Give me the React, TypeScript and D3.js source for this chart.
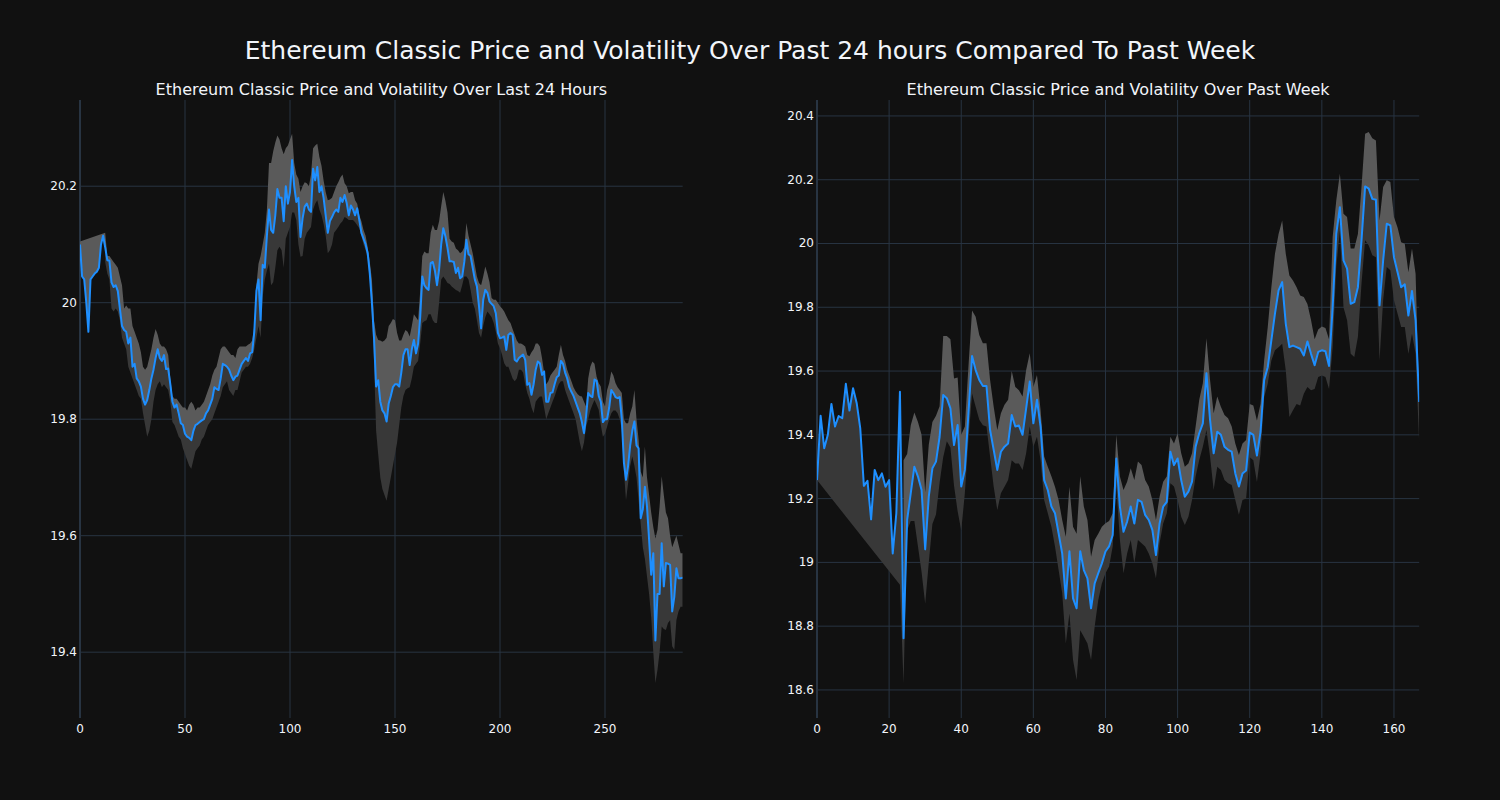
import React from "react";
import * as d3 from "d3";

// ---------- Past 24 hours (5-minute steps) ----------
const dayPrice: number[] = [
  20.10, 20.045, 20.04, 20.00, 19.95, 20.04, 20.045, 20.05, 20.053, 20.06,
  20.10, 20.115, 20.095, 20.073, 20.072, 20.035, 20.027, 20.03, 20.02, 19.99,
  19.96, 19.953, 19.95, 19.93, 19.94, 19.89, 19.895, 19.87, 19.865, 19.856,
  19.835, 19.825, 19.833, 19.85, 19.87, 19.885, 19.905, 19.92, 19.905, 19.90,
  19.91, 19.886, 19.887, 19.86, 19.83, 19.82, 19.825, 19.81, 19.793, 19.79,
  19.775, 19.77, 19.768, 19.764, 19.78, 19.79, 19.792, 19.795, 19.798, 19.80,
  19.81, 19.815, 19.825, 19.835, 19.855, 19.852, 19.85, 19.87, 19.895, 19.893,
  19.89, 19.885, 19.875, 19.867, 19.873, 19.875, 19.885, 19.895, 19.90, 19.905,
  19.90, 19.913, 19.915, 19.95, 20.02, 20.04, 19.97, 20.065, 20.06, 20.115,
  20.16, 20.125, 20.12, 20.15, 20.195, 20.18, 20.18, 20.14, 20.20, 20.17,
  20.19, 20.245, 20.20, 20.173, 20.18, 20.113, 20.145, 20.165, 20.17, 20.16,
  20.156, 20.23, 20.21, 20.233, 20.19, 20.20, 20.18, 20.15, 20.12, 20.14,
  20.147, 20.155, 20.16, 20.156, 20.18, 20.173, 20.185, 20.171, 20.15, 20.167,
  20.16, 20.15, 20.162, 20.142, 20.12, 20.11, 20.10, 20.085, 20.05, 20.0,
  19.94, 19.856, 19.867, 19.83, 19.815, 19.81, 19.796, 19.827, 19.84, 19.855,
  19.86, 19.86, 19.856, 19.88, 19.91, 19.92, 19.92, 19.893, 19.92, 19.936,
  19.913, 19.93, 19.975, 20.045, 20.03, 20.025, 20.022, 20.068, 20.07, 20.055,
  20.03, 20.057, 20.1, 20.128, 20.114, 20.094, 20.071, 20.071, 20.07, 20.051,
  20.06, 20.042, 20.045, 20.07, 20.108, 20.083, 20.08, 20.06, 20.04, 20.028,
  19.994, 19.956, 20.005, 20.022, 20.017, 20.002, 19.998, 19.994, 19.982, 19.948,
  19.939, 19.94, 19.942, 19.919, 19.945, 19.948, 19.945, 19.902, 19.899, 19.905,
  19.908, 19.911, 19.902, 19.859, 19.862, 19.842, 19.86, 19.885, 19.899, 19.896,
  19.876, 19.882, 19.83, 19.83, 19.845, 19.846, 19.86, 19.872, 19.875, 19.9,
  19.895, 19.88, 19.87, 19.855, 19.847, 19.84, 19.83, 19.82, 19.81, 19.795,
  19.776, 19.805, 19.845, 19.84, 19.838, 19.868, 19.866, 19.84, 19.83, 19.795,
  19.80, 19.80, 19.82, 19.85, 19.845, 19.838, 19.836, 19.838, 19.8, 19.726,
  19.696, 19.72, 19.755, 19.78, 19.796, 19.755, 19.75, 19.63, 19.645, 19.684,
  19.65, 19.593, 19.533, 19.57, 19.42, 19.50, 19.5, 19.587, 19.513, 19.553,
  19.552, 19.55, 19.47, 19.495, 19.544, 19.527, 19.527, 19.528,
];

const dayUpper: (number | null)[] = [
  20.105, null, null, null, null, null, null, null, null, null,
  null, null, 20.12, 20.08, 20.08, 20.075, 20.07, 20.065, 20.06, 20.045,
  20.03, 19.99, 19.995, 19.99, 19.99, 19.96, 19.95, 19.94, 19.93, 19.915,
  19.89, 19.885, 19.89, 19.905, 19.92, 19.94, 19.955, 19.945, 19.93, 19.925,
  19.925, 19.92, 19.91, 19.87, 19.84, 19.835, 19.835, 19.83, 19.825, 19.82,
  19.82, 19.815, 19.825, 19.83, 19.825, 19.815, 19.82, 19.82, 19.825, 19.83,
  19.84, 19.85, 19.86, 19.875, 19.885, 19.89, 19.905, 19.92, 19.925, 19.925,
  19.92, 19.915, 19.91, 19.91, 19.905, 19.92, 19.925, 19.925, 19.925, 19.925,
  19.928, 19.93, 19.935, 19.96, 20.03, 20.067, 20.08, 20.10, 20.12, 20.16,
  20.24, 20.24, 20.26, 20.275, 20.287, 20.28, 20.265, 20.255, 20.265, 20.27,
  20.28, 20.29, 20.24, 20.22, 20.213, 20.19, 20.2, 20.207, 20.205, 20.2,
  20.22, 20.265, 20.27, 20.273, 20.25, 20.235, 20.21, 20.19, 20.176, 20.177,
  20.18, 20.19, 20.2, 20.207, 20.215, 20.22, 20.205, 20.2, 20.188, 20.19,
  20.19, 20.176, 20.17, 20.15, 20.14, 20.125, 20.115, 20.095, 20.07, 20.04,
  19.97, 19.945, 19.936, 19.935, 19.933, 19.935, 19.94, 19.96, 19.965, 19.972,
  19.97, 19.948, 19.935, 19.935, 19.945, 19.953, 19.95, 19.942, 19.96, 19.98,
  19.975, 19.97, 20.02, 20.08, 20.088, 20.085, 20.085, 20.12, 20.134, 20.125,
  20.125, 20.14, 20.166, 20.19, 20.175, 20.155, 20.11, 20.105, 20.103, 20.093,
  20.09, 20.085, 20.088, 20.095, 20.137, 20.115, 20.1, 20.085, 20.065, 20.045,
  20.034, 20.03, 20.045, 20.062, 20.05, 20.035, 20.008, 20.005, 20.005, 20.0,
  19.994, 19.99, 19.985, 19.977, 19.97, 19.965, 19.955, 19.945, 19.935, 19.93,
  19.93, 19.928, 19.925, 19.91, 19.908, 19.915, 19.92, 19.93, 19.93, 19.925,
  19.905, 19.88, 19.86, 19.865, 19.875, 19.88, 19.885, 19.89, 19.91, 19.928,
  19.91, 19.9, 19.885, 19.875, 19.865, 19.855, 19.848, 19.843, 19.84, 19.839,
  19.83, 19.822, 19.87, 19.89, 19.899, 19.895, 19.873, 19.862, 19.856, 19.83,
  19.822, 19.85, 19.862, 19.882, 19.875, 19.862, 19.855, 19.85, 19.845, 19.8,
  19.793, 19.793, 19.81, 19.822, 19.85, 19.8, 19.765, 19.71, 19.70, 19.753,
  19.70, 19.67, 19.64, 19.615, 19.595, 19.61, 19.65, 19.702, 19.67, 19.64,
  19.63, 19.6, 19.58, 19.59, 19.6, 19.585, 19.57, 19.57,
];

const dayLower: (number | null)[] = [
  null, null, null, null, null, null, null, null, null, null,
  null, null, 20.07, 20.05, 20.04, 19.99, 19.985, 19.99, 19.985, 19.97,
  19.94, 19.93, 19.92, 19.89, 19.88, 19.87, 19.86, 19.85, 19.84, 19.835,
  19.81, 19.79, 19.77, 19.78, 19.80, 19.83, 19.85, 19.86, 19.865, 19.855,
  19.86, 19.855, 19.85, 19.83, 19.795, 19.79, 19.78, 19.77, 19.765, 19.75,
  19.74, 19.73, 19.72, 19.715, 19.73, 19.745, 19.75, 19.755, 19.765, 19.77,
  19.78, 19.79, 19.795, 19.80, 19.81, 19.82, 19.83, 19.84, 19.855, 19.86,
  19.865, 19.85, 19.845, 19.84, 19.85, 19.85, 19.865, 19.88, 19.885, 19.89,
  19.89, 19.895, 19.905, 19.92, 19.94, 19.96, 19.94, 20.01, 20.04, 20.055,
  20.067, 20.03, 20.035, 20.06, 20.09, 20.096, 20.09, 20.06, 20.11, 20.12,
  20.13, 20.155, 20.155, 20.142, 20.10, 20.079, 20.08, 20.11, 20.12, 20.125,
  20.13, 20.16, 20.17, 20.176, 20.16, 20.15, 20.135, 20.115, 20.085, 20.09,
  20.10, 20.12, 20.125, 20.13, 20.136, 20.14, 20.147, 20.145, 20.142, 20.142,
  20.142, 20.138, 20.133, 20.128, 20.115, 20.1, 20.09, 20.075, 20.04, 19.98,
  19.90, 19.78, 19.74, 19.70, 19.68, 19.67, 19.66, 19.68, 19.70, 19.72,
  19.74, 19.76, 19.79, 19.82, 19.84, 19.85, 19.853, 19.855, 19.87, 19.89,
  19.895, 19.90, 19.93, 19.965, 19.968, 19.97, 19.98, 19.98, 19.97, 19.965,
  19.965, 20.0, 20.04, 20.045, 20.04, 20.034, 20.032, 20.028, 20.025, 20.022,
  20.02, 20.017, 20.03, 20.045, 20.045, 20.04, 20.022, 20.0, 19.99, 19.97,
  19.948, 19.94, 19.96, 19.975, 19.985, 19.98, 19.975, 19.965, 19.95, 19.93,
  19.922, 19.91, 19.896, 19.89, 19.89, 19.88, 19.87, 19.865, 19.87, 19.885,
  19.885, 19.88, 19.86, 19.845, 19.835, 19.82, 19.81, 19.83, 19.835, 19.839,
  19.839, 19.82, 19.80, 19.81, 19.82, 19.83, 19.839, 19.85, 19.86, 19.865,
  19.865, 19.85, 19.84, 19.83, 19.82, 19.81, 19.8, 19.78, 19.76, 19.745,
  19.76, 19.787, 19.80, 19.815, 19.825, 19.833, 19.825, 19.816, 19.79, 19.77,
  19.775, 19.787, 19.80, 19.81, 19.815, 19.815, 19.81, 19.80, 19.782, 19.71,
  19.661, 19.69, 19.72, 19.736, 19.72, 19.70, 19.66, 19.62, 19.58, 19.56,
  19.53, 19.5, 19.46, 19.40, 19.347, 19.37, 19.40, 19.444, 19.44, 19.438,
  19.45, 19.455, 19.41, 19.404, 19.455, 19.47, 19.478, 19.478,
];

// ---------- Past week (hourly steps) ----------
const weekPrice: number[] = [
  19.258, 19.46, 19.358, 19.40, 19.497, 19.426, 19.459, 19.452, 19.56, 19.476,
  19.546, 19.5, 19.42, 19.24, 19.256, 19.135, 19.29, 19.258, 19.279, 19.237,
  19.258, 19.028, 19.154, 19.535, 18.762, 19.133, 19.217, 19.30, 19.269, 19.227,
  19.041, 19.206, 19.295, 19.316, 19.394, 19.525, 19.515, 19.483, 19.368, 19.431,
  19.238, 19.29, 19.468, 19.647, 19.603, 19.572, 19.553, 19.553, 19.415, 19.353,
  19.29, 19.347, 19.363, 19.373, 19.462, 19.426, 19.429, 19.40, 19.483, 19.567,
  19.436, 19.51, 19.426, 19.258, 19.227, 19.175, 19.154, 19.091, 19.028, 18.887,
  19.035, 18.887, 18.856, 19.035, 18.976, 18.95, 18.856, 18.934, 18.966, 18.997,
  19.034, 19.05, 19.086, 19.326, 19.175, 19.096, 19.128, 19.175, 19.122, 19.196,
  19.19, 19.149, 19.133, 19.102, 19.023, 19.122, 19.175, 19.19, 19.347, 19.305,
  19.326, 19.258, 19.206, 19.222, 19.253, 19.363, 19.405, 19.436, 19.593, 19.447,
  19.342, 19.41, 19.40, 19.363, 19.353, 19.347, 19.279, 19.238, 19.279, 19.288,
  19.407, 19.40, 19.335, 19.409, 19.571, 19.612, 19.696, 19.78, 19.853, 19.879,
  19.748, 19.675, 19.68, 19.675, 19.67, 19.649, 19.693, 19.654, 19.618, 19.66,
  19.665, 19.662, 19.616, 19.80, 20.03, 20.114, 19.947, 19.921, 19.811, 19.816,
  19.863, 20.01, 20.179, 20.172, 20.14, 20.137, 19.806, 19.947, 20.062, 20.057,
  19.957, 19.91, 19.863, 19.872, 19.774, 19.851, 19.759, 19.503,
];

const weekUpper: (number | null)[] = [
  null, null, null, null, null, null, null, null, null, null,
  null, null, null, null, null, null, null, null, null, null,
  null, null, null, null, 19.32, 19.34, 19.43, 19.47, 19.44, 19.40,
  19.22, 19.37, 19.44, 19.46, 19.49, 19.71, 19.71, 19.70, 19.577, 19.58,
  19.40, 19.426, 19.614, 19.79, 19.77, 19.713, 19.687, 19.687, 19.572, 19.488,
  19.415, 19.468, 19.494, 19.51, 19.6, 19.55, 19.54, 19.52, 19.603, 19.656,
  19.55, 19.588, 19.478, 19.332, 19.30, 19.27, 19.237, 19.196, 19.133, 19.08,
  19.237, 19.112, 19.09, 19.27, 19.175, 19.133, 19.018, 19.07, 19.09, 19.112,
  19.123, 19.13, 19.154, 19.4, 19.269, 19.227, 19.253, 19.295, 19.258, 19.316,
  19.305, 19.258, 19.238, 19.196, 19.133, 19.206, 19.253, 19.269, 19.394, 19.373,
  19.405, 19.342, 19.3, 19.31, 19.342, 19.426, 19.51, 19.562, 19.703, 19.572,
  19.468, 19.52, 19.488, 19.462, 19.452, 19.426, 19.373, 19.337, 19.373, 19.384,
  19.497, 19.492, 19.445, 19.497, 19.633, 19.738, 19.863, 19.968, 20.03, 20.072,
  19.968, 19.9, 19.884, 19.863, 19.837, 19.832, 19.81, 19.76, 19.70, 19.73,
  19.74, 19.735, 19.70, 20.02, 20.135, 20.219, 20.093, 20.083, 19.984, 19.984,
  20.03, 20.177, 20.344, 20.35, 20.33, 20.323, 20.072, 20.177, 20.198, 20.193,
  20.083, 20.05, 20.004, 19.999, 19.91, 19.984, 19.905, 19.51,
];

const weekLower: (number | null)[] = [
  19.258, null, null, null, null, null, null, null, null, null,
  null, null, null, null, null, null, null, null, null, null,
  null, null, null, 18.93, 18.62, 19.10, 19.13, 19.13, 19.05, 18.97,
  18.87, 19.0, 19.12, 19.15, 19.25, 19.33, 19.38, 19.36, 19.24, 19.16,
  19.10, 19.217, 19.384, 19.53, 19.488, 19.447, 19.43, 19.426, 19.332, 19.237,
  19.164, 19.217, 19.237, 19.258, 19.32, 19.31, 19.31, 19.29, 19.342, 19.426,
  19.363, 19.394, 19.32, 19.196, 19.154, 19.112, 19.05, 18.976, 18.903, 18.746,
  18.84, 18.694, 18.631, 18.787, 18.767, 18.746, 18.694, 18.798, 18.882, 18.934,
  18.966, 18.987, 19.05, 19.238, 19.07, 18.966, 19.028, 19.07, 18.997, 19.07,
  19.06, 19.05, 19.028, 18.997, 18.95, 19.06, 19.122, 19.154, 19.248, 19.238,
  19.196, 19.143, 19.117, 19.143, 19.196, 19.269, 19.321, 19.363, 19.415, 19.332,
  19.227, 19.3, 19.29, 19.258, 19.248, 19.243, 19.196, 19.149, 19.196, 19.2,
  19.33, 19.32, 19.252, 19.34, 19.518, 19.56, 19.633, 19.665, 19.675, 19.686,
  19.602, 19.456, 19.477, 19.497, 19.492, 19.529, 19.55, 19.54, 19.544, 19.581,
  19.586, 19.581, 19.544, 19.675, 19.926, 20.041, 19.8, 19.759, 19.654, 19.644,
  19.707, 19.874, 20.01, 19.994, 19.963, 19.957, 19.633, 19.822, 19.926, 19.916,
  19.822, 19.78, 19.738, 19.738, 19.654, 19.717, 19.654, 19.372,
];

// ---------- Axes ----------
const dayXTicks = [0, 50, 100, 150, 200, 250];
const dayYTicks = [19.4, 19.6, 19.8, 20, 20.2];
const dayYRange = [19.287, 20.348];
const weekXTicks = [0, 20, 40, 60, 80, 100, 120, 140, 160];
const weekYTicks = [18.6, 18.8, 19, 19.2, 19.4, 19.6, 19.8, 20, 20.2, 20.4];
const weekYRange = [18.512, 20.45];

const mainTitle = "Ethereum Classic Price and Volatility Over Past 24 hours Compared To Past Week";
const dayTitle = "Ethereum Classic Price and Volatility Over Last 24 Hours";
const weekTitle = "Ethereum Classic Price and Volatility Over Past Week";

const BG = "#111111";
const GRID = "#283442";
const TEXT = "#f2f5fa";
const LINE = "#1e8fff";
const LIGHT = "#5a5a5a";
const DARK = "#383838";
const FONT = "'DejaVu Sans', Verdana, sans-serif";

type PanelProps = {
  title: string;
  price: number[];
  upper: (number | null)[];
  lower: (number | null)[];
  xTicks: number[];
  yTicks: number[];
  yRange: number[];
  left: number;
  right: number;
  top: number;
  bottom: number;
};

function Panel(p: PanelProps) {
  const n = p.price.length;
  const x = d3.scaleLinear().domain([0, n - 1]).range([p.left, p.right]);
  const y = d3.scaleLinear().domain(p.yRange).range([p.bottom, p.top]);
  const idx = d3.range(n);

  const line = d3
    .line<number>()
    .x((i) => x(i))
    .y((i) => y(p.price[i]));

  const band = (edge: (number | null)[]) => {
    const first = edge.findIndex((v) => v != null);
    const fwd: [number, number][] = idx
      .filter((i) => i >= first)
      .map((i) => [x(i), y(p.price[i])]);
    const back: [number, number][] = idx
      .filter((i) => i >= first && edge[i] != null)
      .reverse()
      .map((i) => [x(i), y(edge[i] as number)]);
    return (d3.line()([...fwd, ...back]) || "") + "Z";
  };

  const clipId = `clip-${p.left}`;
  return (
    <g>
      <defs>
        <clipPath id={clipId}>
          <rect x={p.left} y={p.top} width={p.right - p.left} height={p.bottom - p.top} />
        </clipPath>
      </defs>
      {p.xTicks.map((t) => (
        <line key={`gx${t}`} x1={x(t)} x2={x(t)} y1={p.top} y2={p.bottom} stroke={GRID} strokeWidth={1} />
      ))}
      {p.yTicks.map((t) => (
        <line key={`gy${t}`} x1={p.left} x2={p.right} y1={y(t)} y2={y(t)} stroke={GRID} strokeWidth={1} />
      ))}
      <line x1={x(0)} x2={x(0)} y1={p.top} y2={p.bottom} stroke={GRID} strokeWidth={2} />
      <g clipPath={`url(#${clipId})`}>
        <path d={band(p.upper)} fill={LIGHT} stroke="none" />
        <path d={band(p.lower)} fill={DARK} stroke="none" />
        <path d={line(idx) || ""} fill="none" stroke={LINE} strokeWidth={2} strokeLinejoin="round" />
      </g>
      {p.xTicks.map((t) => (
        <text key={`tx${t}`} x={x(t)} y={p.bottom + 11} fill={TEXT} fontSize={12} textAnchor="middle" dominantBaseline="central" fontFamily={FONT}>
          {String(t)}
        </text>
      ))}
      {p.yTicks.map((t) => (
        <text key={`ty${t}`} x={p.left - 3} y={y(t)} fill={TEXT} fontSize={12} textAnchor="end" dominantBaseline="central" fontFamily={FONT}>
          {String(t)}
        </text>
      ))}
      <text x={(p.left + p.right) / 2} y={89} fill={TEXT} fontSize={16} textAnchor="middle" dominantBaseline="central" fontFamily={FONT}>
        {p.title}
      </text>
    </g>
  );
}

export default function App() {
  return (
    <svg
      width={1500}
      height={800}
      style={{ position: "absolute", left: 0, top: 0, background: BG, display: "block" }}
    >
      <rect x={0} y={0} width={1500} height={800} fill={BG} />
      <text x={750} y={50} fill={TEXT} fontSize={25} textAnchor="middle" dominantBaseline="central" fontFamily={FONT}>
        {mainTitle}
      </text>
      <Panel
        title={dayTitle}
        price={dayPrice}
        upper={dayUpper}
        lower={dayLower}
        xTicks={dayXTicks}
        yTicks={dayYTicks}
        yRange={dayYRange}
        left={80}
        right={682.7}
        top={100}
        bottom={718}
      />
      <Panel
        title={weekTitle}
        price={weekPrice}
        upper={weekUpper}
        lower={weekLower}
        xTicks={weekXTicks}
        yTicks={weekYTicks}
        yRange={weekYRange}
        left={817}
        right={1419.2}
        top={100}
        bottom={718}
      />
    </svg>
  );
}
